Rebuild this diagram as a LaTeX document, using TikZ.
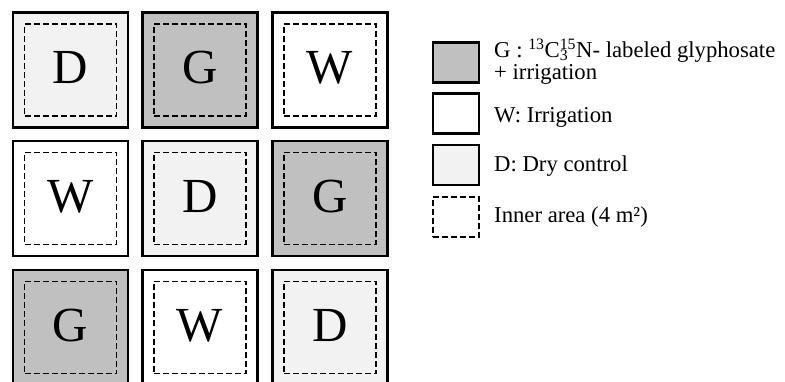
\documentclass[tikz,border=0pt]{standalone}
\usepackage{fontspec}
\setmainfont{Liberation Serif}
\definecolor{gfill}{RGB}{192,192,192}
\definecolor{dfill}{RGB}{242,242,242}
\tikzset{
  plot/.style={draw=black, line width=2.2pt, minimum size=115pt, inner sep=0pt},
  innerarea/.style={draw=black, line width=1.8pt, dash pattern=on 6pt off 3pt, minimum size=92pt, inner sep=0pt},
  letter/.style={inner sep=0pt, font=\fontsize{49}{49}\selectfont},
  legbox/.style={draw=black, line width=2.2pt, minimum width=46pt, minimum height=40pt, inner sep=0pt},
  legdash/.style={draw=black, line width=1.8pt, dash pattern=on 6pt off 3pt, minimum width=46pt, minimum height=40pt, inner sep=0pt},
  legtext/.style={anchor=base west, inner sep=0pt, font=\fontsize{22.7}{22.5}\selectfont, align=left}
}
\begin{document}
\begin{tikzpicture}[x=1pt,y=-1pt]
\useasboundingbox (0,0) rectangle (785,382);
\clip (0,0) rectangle (785,382);
% row 1
\node[plot, fill=dfill] (p11) at (70.5,70) {};
\node[innerarea] (i11) at (p11.center) {};
\node[letter] (c11) at ([yshift=2pt]p11.center) {D};
\node[plot, fill=gfill] (p12) at (200,70) {};
\node[innerarea] (i12) at (p12.center) {};
\node[letter] (c12) at ([yshift=2pt]p12.center) {G};
\node[plot, fill=white] (p13) at (330,70) {};
\node[innerarea] (i13) at (p13.center) {};
\node[letter] (c13) at ([yshift=2pt]p13.center) {W};
% row 2
\node[plot, fill=white] (p21) at (70.5,198.5) {};
\node[innerarea] (i21) at (p21.center) {};
\node[letter] (c21) at ([yshift=2pt]p21.center) {W};
\node[plot, fill=dfill] (p22) at (200,198.5) {};
\node[innerarea] (i22) at (p22.center) {};
\node[letter] (c22) at ([yshift=2pt]p22.center) {D};
\node[plot, fill=gfill] (p23) at (330,198.5) {};
\node[innerarea] (i23) at (p23.center) {};
\node[letter] (c23) at ([yshift=2pt]p23.center) {G};
% row 3
\node[plot, fill=gfill] (p31) at (70.5,327.5) {};
\node[innerarea] (i31) at (p31.center) {};
\node[letter] (c31) at ([yshift=2pt]p31.center) {G};
\node[plot, fill=white] (p32) at (200,327.5) {};
\node[innerarea] (i32) at (p32.center) {};
\node[letter] (c32) at ([yshift=2pt]p32.center) {W};
\node[plot, fill=dfill] (p33) at (330,327.5) {};
\node[innerarea] (i33) at (p33.center) {};
\node[letter] (c33) at ([yshift=2pt]p33.center) {D};
% legend
\node[legbox, fill=gfill] (l1) at (456,62.5) {};
\node[legbox, fill=white] (l2) at (456,113.5) {};
\node[legbox, fill=dfill] (l3) at (456,165) {};
\node[legdash, fill=white] (l4) at (456,217) {};
\node[legtext] (t1) at (494,80) {G : \textsuperscript{13}C\makebox[0pt][l]{\textsubscript{3}}\textsuperscript{15}N- labeled glyphosate\\+ irrigation};
\node[legtext] (t2) at (494,123) {W: Irrigation};
\node[legtext] (t3) at (494,172) {D: Dry control};
\node[legtext] (t4) at (494,223) {Inner area (4 m²)};
\end{tikzpicture}
\end{document}
